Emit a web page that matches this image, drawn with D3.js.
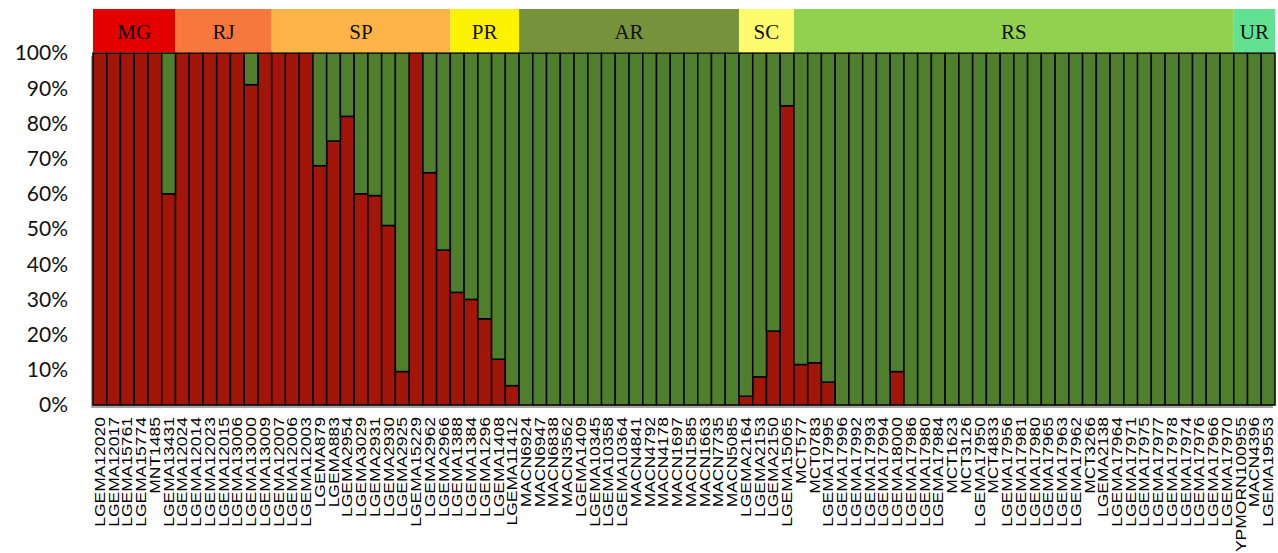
<!DOCTYPE html>
<html>
<head>
<meta charset="utf-8">
<script src="https://cdn.jsdelivr.net/npm/d3@7"></script>
<style>
  body { margin: 0; background: #fff; }
  svg { display: block; }
</style>
</head>
<body>
<div id="chart"></div>
<script>
// regions shown in the top band, with how many samples each one covers
var regions = ["MG", "RJ", "SP", "PR", "AR", "SC", "RS", "UR"];
var regionCounts = [6, 7, 13, 5, 16, 4, 32, 3];
var regionColors = ["#E30000", "#F7773D", "#FDB446", "#FDF200", "#76933C", "#FEFC6C", "#92D050", "#62E193"];

var samples = [
    "LGEMA12020", "LGEMA12017", "LGEMA15761", "LGEMA15774", "MNT1485", "LGEMA13431",
    "LGEMA12024", "LGEMA12014", "LGEMA12023", "LGEMA12015", "LGEMA13006", "LGEMA13000", "LGEMA13009",
    "LGEMA12007", "LGEMA12006", "LGEMA12003", "LGEMA879", "LGEMA883", "LGEMA2954", "LGEMA3029",
    "LGEMA2931", "LGEMA2930", "LGEMA2925", "LGEMA15229", "LGEMA2962", "LGEMA2966",
    "LGEMA1388", "LGEMA1384", "LGEMA1296", "LGEMA1408", "LGEMA11412",
    "MACN6924", "MACN6947", "MACN6838", "MACN3562", "LGEMA1409", "LGEMA10345", "LGEMA10358", "LGEMA10364",
    "MACN4841", "MACN4792", "MACN4178", "MACN1697", "MACN1585", "MACN1663", "MACN7735", "MACN5085",
    "LGEMA2164", "LGEMA2153", "LGEMA2150", "LGEMA15065",
    "MCT577", "MCT0783", "LGEMA17995", "LGEMA17996", "LGEMA17992", "LGEMA17993", "LGEMA17994", "LGEMA18000",
    "LGEMA17986", "LGEMA17980", "LGEMA17984", "MCT1623", "MCT3126", "LGEMA17950", "MCT4833", "LGEMA17956",
    "LGEMA17981", "LGEMA17980", "LGEMA17965", "LGEMA17963", "LGEMA17962", "MCT3266", "LGEMA2138",
    "LGEMA17964", "LGEMA17971", "LGEMA17975", "LGEMA17977", "LGEMA17978", "LGEMA17974", "LGEMA17976",
    "LGEMA17966", "LGEMA17970",
    "YPMORN100955", "MACN4396", "LGEMA19553"];

// share of the red cluster (%), the rest is green
var redShare = [
    100, 100, 100, 100, 100, 60,
    100, 100, 100, 100, 100, 91, 100,
    100, 100, 100, 68, 75, 82, 60, 59.5, 51, 9.5, 100, 66, 44,
    32, 30, 24.5, 13, 5.5,
    0, 0, 0, 0, 0, 0, 0, 0, 0, 0, 0, 0, 0, 0, 0, 0,
    2.5, 8, 21, 85,
    11.5, 12, 6.5, 0, 0, 0, 0, 9.5, 0, 0, 0, 0, 0, 0, 0, 0,
    0, 0, 0, 0, 0, 0, 0, 0, 0, 0, 0, 0, 0, 0, 0, 0,
    0, 0, 0];

var yTicks = [0, 10, 20, 30, 40, 50, 60, 70, 80, 90, 100];

function drawChart() {
    var width = 1278,
        height = 553,
        plotLeft = 93,
        plotRight = 1275,
        plotTop = 53,
        plotBottom = 405,
        bandTop = 9;

    var red = "#A2160A",
        green = "#4F7F2C";

    var svg = d3.select("#chart").append("svg")
        .attr("width", width)
        .attr("height", height);

    var x = d3.scaleBand()
        .domain(d3.range(samples.length))
        .range([plotLeft, plotRight])
        .padding(0);

    var y = d3.scaleLinear()
        .domain([0, 100])
        .range([plotBottom, plotTop]);

    // stacked rows: red at the bottom, green on top
    var rows = samples.map(function (s, i) {
        return {i: i, name: s, red: redShare[i], green: 100 - redShare[i]};
    });
    var stack = d3.stack().keys(["red", "green"])(rows);

    // soft shadow of the plot like the original
    svg.append("rect")
        .attr("x", plotLeft - 2)
        .attr("y", plotTop + 3)
        .attr("width", plotRight - plotLeft)
        .attr("height", plotBottom - plotTop)
        .attr("fill", "#a6a6a6");

    svg.append("g")
        .selectAll("g")
        .data(stack)
        .enter().append("g")
        .attr("fill", function (d) { return d.key === "red" ? red : green; })
        .selectAll("rect")
        .data(function (d) { return d.filter(function (p) { return p[1] - p[0] > 0; }); })
        .enter().append("rect")
        .attr("x", function (d) { return x(d.data.i); })
        .attr("y", function (d) { return y(d[1]); })
        .attr("width", x.bandwidth())
        .attr("height", function (d) { return y(d[0]) - y(d[1]); })
        .attr("stroke", "#000")
        .attr("stroke-width", 1.5);

    // region band along the top
    var starts = [];
    var acc = 0;
    regionCounts.forEach(function (c) { starts.push(acc); acc += c; });

    var band = svg.append("g").selectAll("g")
        .data(regions)
        .enter().append("g");

    band.append("rect")
        .attr("x", function (d, k) { return x(starts[k]); })
        .attr("y", bandTop)
        .attr("width", function (d, k) { return x.bandwidth() * regionCounts[k]; })
        .attr("height", plotTop - bandTop - 0.8)
        .attr("fill", function (d, k) { return regionColors[k]; });

    band.append("text")
        .attr("x", function (d, k) { return x(starts[k]) + x.bandwidth() * regionCounts[k] / 2; })
        .attr("y", 39)
        .attr("text-anchor", "middle")
        .style("font-family", "'Liberation Serif', serif")
        .style("font-size", "21px")
        .style("fill", "#111")
        .text(function (d) { return d; });

    // y axis labels
    svg.append("g")
        .selectAll("text")
        .data(yTicks)
        .enter().append("text")
        .attr("x", 68)
        .attr("y", function (d) { return y(d); })
        .attr("dy", "0.35em")
        .attr("text-anchor", "end")
        .style("font-family", "Lato, sans-serif")
        .style("font-size", "21px")
        .style("fill", "#111")
        .text(function (d) { return d + "%"; });

    // sample labels, rotated
    svg.append("g")
        .selectAll("text")
        .data(samples)
        .enter().append("text")
        .attr("transform", function (d, i) {
            return "translate(" + (x(i) + x.bandwidth() / 2) + ",417) rotate(-90) scale(1.25,1)";
        })
        .attr("dy", "0.36em")
        .attr("text-anchor", "end")
        .style("font-family", "'Liberation Sans', Arial, sans-serif")
        .style("font-size", "14px")
        .style("fill", "#000")
        .text(function (d) { return d; });
}

drawChart();
</script>
</body>
</html>
